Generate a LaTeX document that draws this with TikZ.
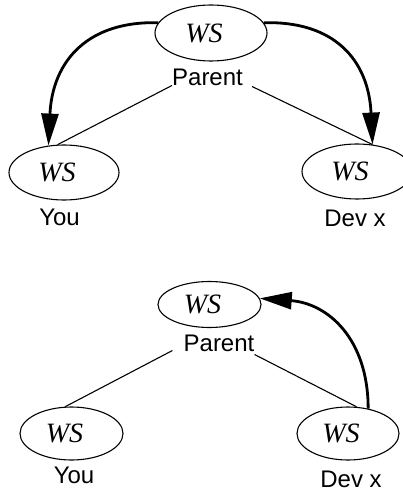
\documentclass[tikz,border=0pt]{standalone}
\usepackage{fontspec}
\setmainfont{Liberation Sans}
\newfontfamily\wsfamily{Liberation Serif}
\usetikzlibrary{shapes.geometric,arrows.meta}

\tikzset{
  ws/.style={ellipse, draw, line width=1.1pt, inner sep=0pt,
    font=\wsfamily\itshape\fontsize{28}{32}\selectfont},
  tag/.style={inner sep=0pt, anchor=base, font=\fontsize{24}{28}\selectfont},
  link/.style={line width=1.1pt},
  flow/.style={line width=2.8pt, -{Triangle[length=32pt,width=17pt]}},
}
\newcommand{\wslabel}{WS\kern14pt}

\begin{document}
\begin{tikzpicture}[x=1pt, y=-1pt]
\useasboundingbox (0,0) rectangle (403,494);

% ---- upper tree: parent pushes changes to both children ----
\node[ws, minimum width=112pt, minimum height=56pt] (parent1) at (211,33) {\wslabel};
\node[ws, minimum width=110pt, minimum height=55pt] (you1) at (64,172.5) {\wslabel};
\node[ws, minimum width=110pt, minimum height=55pt] (dev1) at (357,171.5) {\wslabel};

\node[tag] (plab1) at (207.5,85.5) {Parent};
\node[tag] (ylab1) at (59.5,225) {You};
\node[tag] (dlab1) at (355,226) {Dev x};

\draw[link] (plab1.base west) -- (you1.103);
\draw[link] ([xshift=9pt,yshift=-1pt]plab1.base east) -- (dev1.60);

\draw[flow] (parent1.169) .. controls +(-70,-2) and +(4,-85) .. (you1.120);
\draw[flow] (parent1.11) .. controls +(70,-2) and +(-4,-85) .. (dev1.60);

% ---- lower tree: a child returns changes to the parent ----
\node[ws, minimum width=103pt, minimum height=46pt] (parent2) at (209.5,304.5) {\wslabel};
\node[ws, minimum width=103pt, minimum height=53pt] (you2) at (71.5,433.5) {\wslabel};
\node[ws, minimum width=102pt, minimum height=53pt] (dev2) at (348,433.5) {\wslabel};

\node[tag] (plab2) at (219,351.5) {Parent};
\node[tag] (ylab2) at (74,483.5) {You};
\node[tag] (dlab2) at (351,487) {Dev x};

\draw[link] ([xshift=-11pt,yshift=1pt]plab2.base west) -- (you2.103);
\draw[link] ([yshift=-3pt]plab2.base east) -- (dev2.72);

\draw[flow] (dev2.51) .. controls +(0,-70) and +(68,5) .. (parent2.7);
\end{tikzpicture}
\end{document}
